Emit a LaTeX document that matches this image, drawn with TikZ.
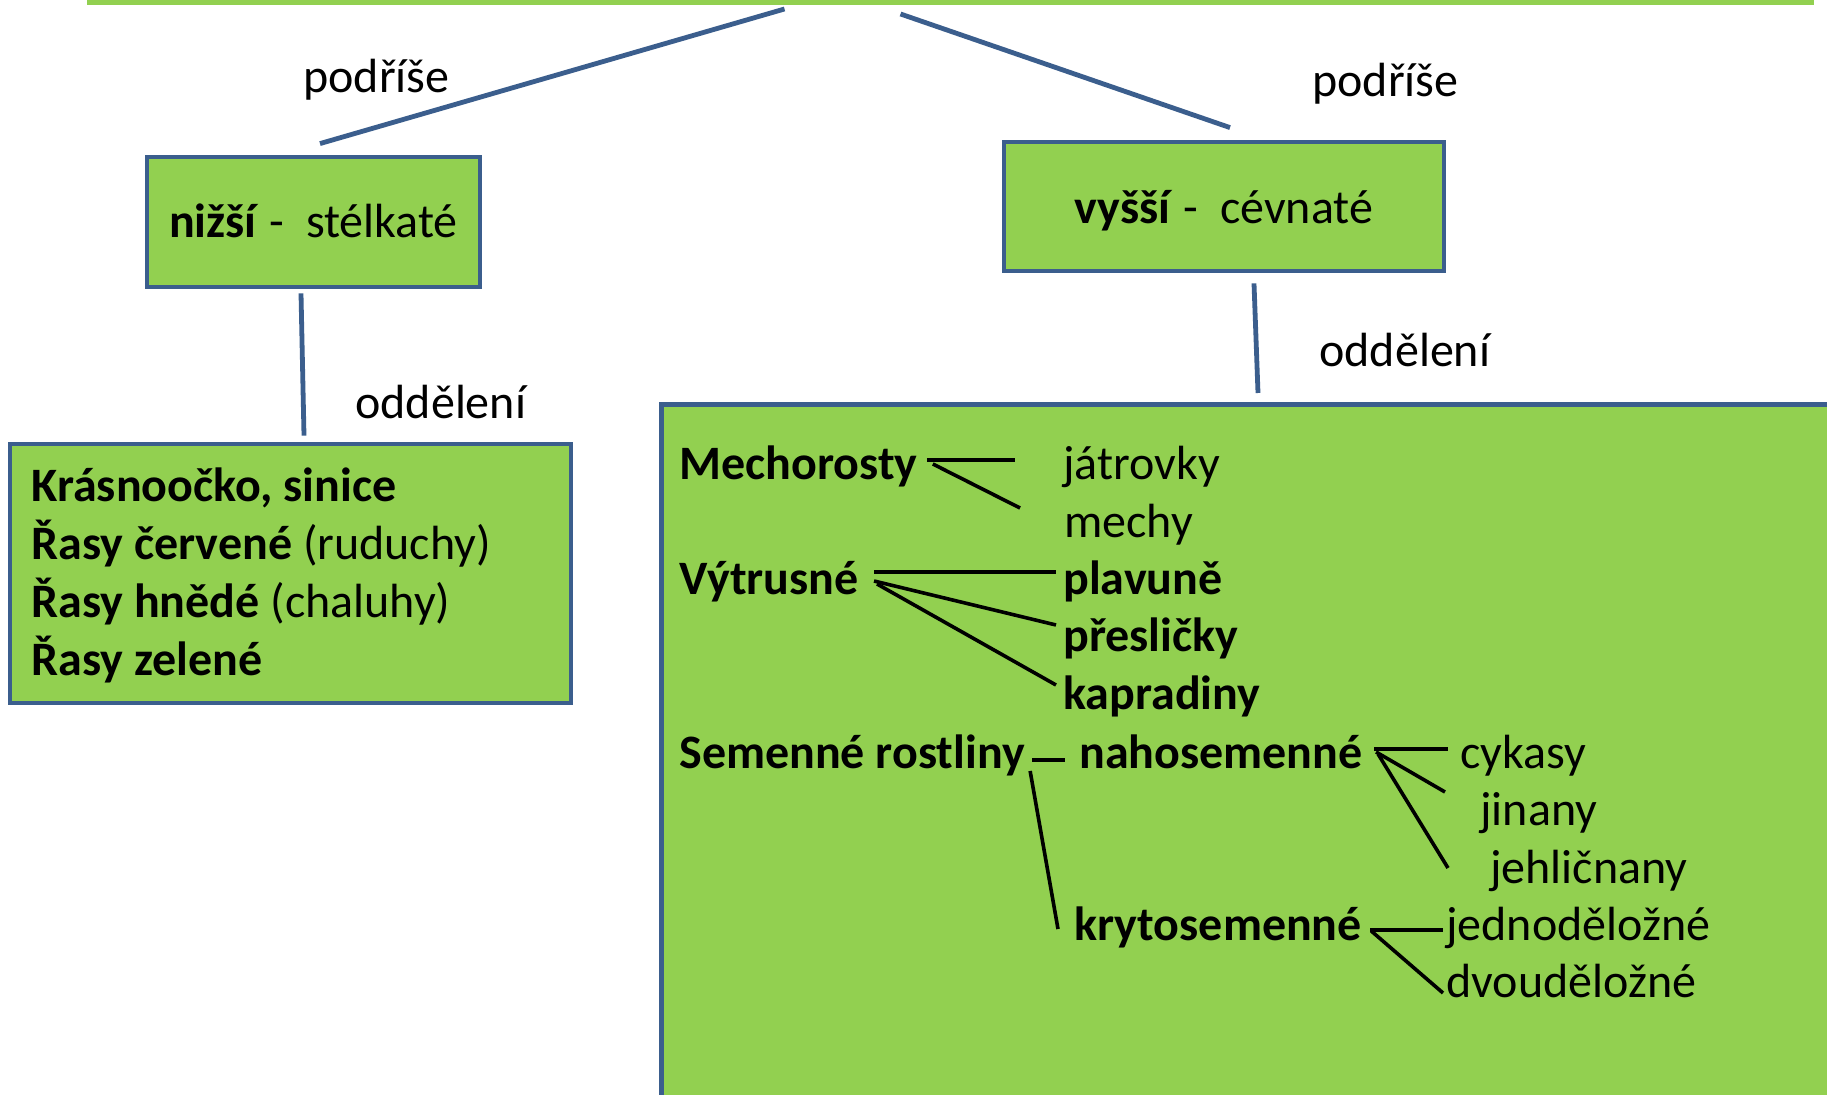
\documentclass[tikz,border=0pt]{standalone}
\usepackage{fontspec}
\setmainfont{Carlito}
\usetikzlibrary{calc}
\definecolor{boxgreen}{RGB}{146,208,80}
\definecolor{boxblue}{RGB}{59,94,141}
\tikzset{
  greenbox/.style={draw=boxblue, fill=boxgreen, line width=2.4pt, inner sep=0pt},
  txt/.style={inner sep=0pt, anchor=base west, font=\fontsize{24pt}{29pt}\selectfont},
  btxt/.style={txt, font=\fontsize{24pt}{29pt}\selectfont\bfseries},
  blueline/.style={draw=boxblue, line width=2.4pt},
  blackline/.style={draw=black, line width=1.8pt}
}
\begin{document}
\begin{tikzpicture}[x=0.5pt, y=-0.5pt]
\clip (0,0) rectangle (1827,1095);
\fill[white] (0,0) rectangle (1827,1095);

\node[fill=boxgreen, inner sep=0pt, minimum width=863.5pt, minimum height=40pt, anchor=south] (root) at (950.5,5) {};

\node[greenbox, minimum width=166.5pt, minimum height=65pt, font=\fontsize{24pt}{29pt}\selectfont] (nizsi) at (313.5,222)
  {\raisebox{-8pt}[0pt][0pt]{\textbf{nižší} -\ \ stélkaté}};
\node[greenbox, minimum width=220pt, minimum height=64.5pt, font=\fontsize{24pt}{29pt}\selectfont] (vyssi) at (1224,206.5)
  {\raisebox{-8.75pt}[0pt][0pt]{\textbf{vyšší} -\ \ cévnaté}};

\node[greenbox, minimum width=280.5pt, minimum height=129.5pt] (stelk) at (290.5,573.5) {};
\node[greenbox, minimum width=700pt, minimum height=400pt, anchor=north west] (cevn) at (659,402) {};

% podrise a oddeleni
\draw[blueline] ($(root.south)+(-166,4)$) -- ($(nizsi.north)+(6.5,-11)$);
\draw[blueline] ($(root.south)+(-50,9)$) -- ($(vyssi.north)+(6,-12)$);
\draw[blueline] ($(nizsi.south)+(-12.5,4)$) -- ($(stelk.north)+(13.5,-6)$);
\draw[blueline] ($(vyssi.south)+(30,10)$) -- ($(cevn.north west)+(599,-9)$);

\node[txt] (podl) at (303,93) {podříše};
\node[txt] (podr) at (1312,97) {podříše};
\node[txt] (oddl) at (355,419) {oddělení};
\node[txt] (oddr) at (1319,367) {oddělení};

\foreach \y/\name/\row in {502/kras/{\textbf{Krásnoočko, sinice}},
                          560/cerv/{\textbf{Řasy červené} (ruduchy)},
                          618/hned/{\textbf{Řasy hnědé} (chaluhy)},
                          676/zel/{\textbf{Řasy zelené}}}{
  \node[txt] (\name) at (31,\y) {\row};
}

\node[btxt] (mech) at (679,480) {Mechorosty};
\node[txt] (jatrovky) at (1063,480) {játrovky};
\node[txt] (mechy) at (1064,538) {mechy};
\node[btxt] (vytrus) at (679,595) {Výtrusné};
\node[btxt] (plavune) at (1063,595) {plavuně};
\node[btxt] (preslicky) at (1063,652) {přesličky};
\node[btxt] (kapradiny) at (1063,710) {kapradiny};
\node[btxt] (semenne) at (679,769) {Semenné rostliny};
\node[btxt] (naho) at (1079,769) {nahosemenné};
\node[txt] (cykasy) at (1460,769) {cykasy};
\node[txt] (jinany) at (1480,826) {jinany};
\node[txt] (jehlic) at (1490,884) {jehličnany};
\node[btxt] (kryto) at (1074,941) {krytosemenné};
\node[txt] (jedno) at (1446,941) {jednoděložné};
\node[txt] (dvou) at (1446,998) {dvouděložné};

\draw[blackline] ($(mech.base east)+(9,-20)$) -- ($(jatrovky.base west)+(-48,-20)$);
\draw[blackline] ($(mech.base east)+(15,-16)$) -- ($(mechy.base west)+(-44,-30)$);
\draw[blackline] ($(vytrus.base east)+(15,-23)$) -- ($(plavune.base west)+(-7,-23)$);
\draw[blackline] ($(vytrus.base east)+(15,-14)$) -- ($(preslicky.base west)+(-7,-27)$);
\draw[blackline] ($(vytrus.base east)+(18,-11)$) -- ($(kapradiny.base west)+(-7,-25)$);
\draw[blackline] ($(semenne.base east)+(7,-9)$) -- ($(naho.base west)+(-14,-9)$);
\draw[blackline] ($(semenne.base east)+(5,2)$) -- ($(kryto.base west)+(-16,-12)$);
\draw[blackline] ($(naho.base east)+(11,-20)$) -- ($(cykasy.base west)+(-12,-20)$);
\draw[blackline] ($(naho.base east)+(13,-17)$) -- ($(jinany.base west)+(-35,-34)$);
\draw[blackline] ($(naho.base east)+(15,-15)$) -- ($(jehlic.base west)+(-42,-16)$);
\draw[blackline] ($(kryto.base east)+(8,-11)$) -- ($(jedno.base west)+(-3,-11)$);
\draw[blackline] ($(kryto.base east)+(9,-10)$) -- ($(dvou.base west)+(-3,-5)$);
\end{tikzpicture}
\end{document}
